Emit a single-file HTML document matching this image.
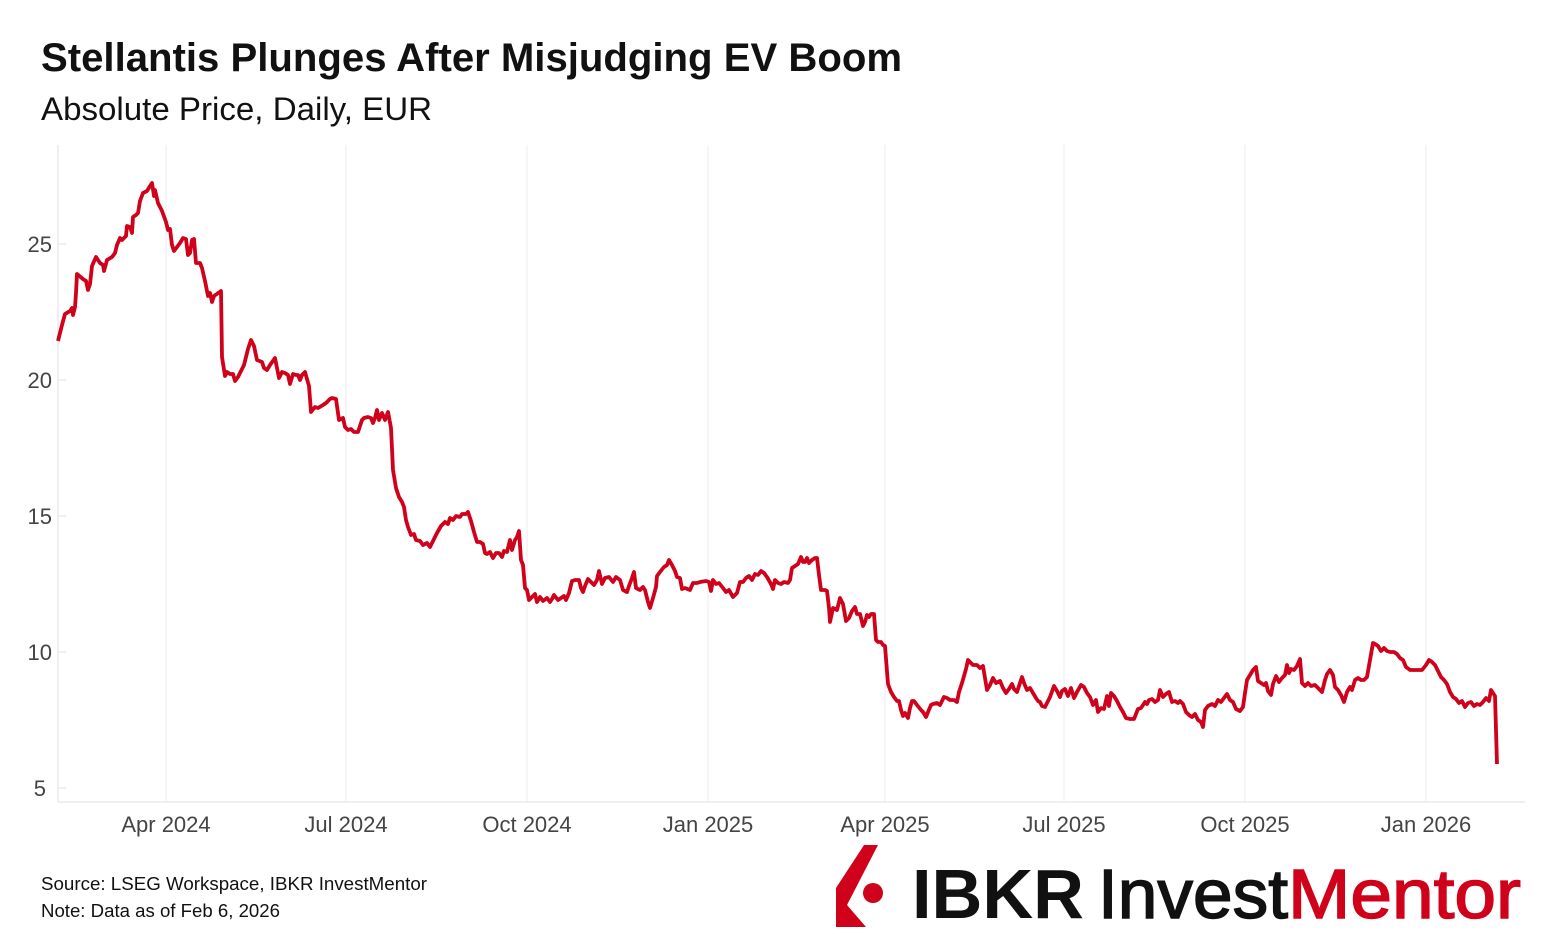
<!DOCTYPE html>
<html><head><meta charset="utf-8"><style>html,body{margin:0;padding:0;background:#fff}svg{display:block}</style></head>
<body>
<svg width="1563" height="952" viewBox="0 0 1563 952" xmlns="http://www.w3.org/2000/svg" font-family="Liberation Sans, DejaVu Sans, sans-serif">
<rect width="1563" height="952" fill="#fff"/>
<text x="41" y="71" font-size="40" font-weight="bold" fill="#111" textLength="861" lengthAdjust="spacingAndGlyphs">Stellantis Plunges After Misjudging EV Boom</text>
<text x="41" y="120" font-size="32" fill="#111" textLength="391" lengthAdjust="spacingAndGlyphs">Absolute Price, Daily, EUR</text>
<g stroke="#f2f3f5" stroke-width="1.5">
<line x1="166" y1="145" x2="166" y2="802"/><line x1="346" y1="145" x2="346" y2="802"/><line x1="527" y1="145" x2="527" y2="802"/><line x1="708" y1="145" x2="708" y2="802"/><line x1="885" y1="145" x2="885" y2="802"/><line x1="1064" y1="145" x2="1064" y2="802"/><line x1="1245" y1="145" x2="1245" y2="802"/><line x1="1426" y1="145" x2="1426" y2="802"/>
</g>
<g stroke="#e8eaee" stroke-width="1.5">
<line x1="58" y1="145" x2="58" y2="802"/><line x1="58" y1="802" x2="1525" y2="802"/>
<line x1="58" y1="244" x2="66" y2="244"/><line x1="58" y1="380" x2="66" y2="380"/><line x1="58" y1="516" x2="66" y2="516"/><line x1="58" y1="652" x2="66" y2="652"/><line x1="58" y1="788" x2="66" y2="788"/>
</g>
<g font-size="22" fill="#444" text-anchor="end">
<text x="52" y="252">25</text><text x="52" y="388">20</text><text x="52" y="524">15</text><text x="52" y="660">10</text><text x="46" y="796">5</text>
</g>
<g font-size="22" fill="#444" text-anchor="middle">
<text x="166" y="832">Apr 2024</text><text x="346" y="832">Jul 2024</text><text x="527" y="832">Oct 2024</text><text x="708" y="832">Jan 2025</text><text x="885" y="832">Apr 2025</text><text x="1064" y="832">Jul 2025</text><text x="1245" y="832">Oct 2025</text><text x="1426" y="832">Jan 2026</text>
</g>
<polyline fill="none" stroke="#d0021b" stroke-width="3.8" stroke-linejoin="round" points="58,341 62,325 65,314 70,311 72,308 73,315 75,307 76,293 77,274 83,279 86,281 88,290 90,284 92,266 96,257 100,263 103,265 104,271 107,260 112,257 115,253 117,245 120,238 122,240 126,236 127,226 130,227 132,233 133,217 136,215 138,213 140,201 143,193 147,191 150,186 152,183 154,196 155,190 158,203 162,211 166,222 168,230 170,229 172,245 174,251 177,247 180,243 183,238 186,239 188,255 190,253 192,240 194,239 196,263 200,263 202,268 205,281 208,296 210,293 212,302 214,296 221,291 222,357 225,376 227,372 230,374 233,374 235,381 238,377 240,373 244,365 248,349 251,340 254,346 257,360 262,362 264,368 267,370 270,365 275,358 277,368 279,378 282,372 285,373 288,375 290,384 293,374 296,375 298,375 300,380 302,375 305,372 309,386 311,412 315,407 318,408 323,405 326,403 330,399 332,398 336,399 339,420 343,418 345,427 348,430 351,429 354,432 358,432 362,420 364,418 368,417 371,418 373,423 375,418 377,410 379,420 382,413 385,420 388,412 391,428 393,470 396,488 399,497 402,502 404,507 406,520 408,527 411,535 414,534 416,540 420,541 423,545 427,543 430,547 434,539 437,533 441,526 445,522 448,524 450,518 453,520 456,516 460,517 462,514 466,514 468,512 471,521 474,532 477,542 480,542 483,544 485,553 487,554 490,552 493,558 496,553 499,553 502,557 504,551 507,552 510,540 512,550 515,540 517,537 519,531 521,560 523,565 525,588 527,590 529,600 532,597 535,594 537,602 540,597 543,601 547,598 550,602 552,599 554,595 558,600 561,598 564,596 566,600 569,593 572,581 575,580 579,580 581,588 583,592 585,586 588,579 591,582 594,585 597,580 599,571 602,584 605,578 609,577 613,582 616,577 620,580 623,590 627,592 629,586 632,578 634,572 636,588 640,590 643,587 645,590 648,602 650,608 653,598 656,587 657,576 660,572 664,567 667,565 669,560 672,565 675,571 677,577 680,578 682,589 685,588 690,590 693,583 697,583 700,582 706,581 709,582 711,591 713,580 716,584 719,583 723,588 726,592 729,590 733,597 737,593 740,582 743,582 746,578 749,576 752,580 755,574 758,575 761,571 764,573 767,577 771,584 773,589 775,580 778,583 781,584 784,582 788,583 790,580 792,568 795,566 798,564 801,557 803,562 805,562 807,558 809,563 812,560 815,558 817,558 819,575 821,590 825,590 827,591 829,608 830,622 833,608 837,610 840,598 843,604 846,621 849,618 852,611 855,607 857,614 860,614 863,626 865,622 867,615 869,617 871,614 874,614 876,640 878,642 881,642 883,645 885,646 888,684 891,692 894,697 897,701 899,701 901,710 903,716 905,713 908,718 910,708 912,701 914,701 917,705 921,710 923,712 926,717 928,712 931,705 933,704 937,703 940,705 942,701 944,697 947,698 950,700 954,700 957,702 959,692 962,683 966,669 968,660 970,662 973,665 977,665 980,668 983,666 985,678 987,690 990,685 993,678 996,683 1000,681 1003,688 1006,693 1009,689 1012,684 1014,689 1017,692 1019,686 1022,677 1024,683 1027,690 1030,688 1033,693 1036,698 1038,701 1040,702 1042,706 1045,707 1047,703 1050,697 1054,686 1057,691 1060,697 1062,691 1065,689 1068,696 1071,688 1074,698 1077,692 1081,685 1084,687 1087,693 1090,697 1093,705 1096,700 1098,712 1101,708 1104,709 1107,696 1109,706 1111,693 1114,696 1117,701 1120,707 1123,712 1126,718 1130,719 1134,719 1136,714 1138,709 1141,708 1145,702 1147,704 1149,700 1152,699 1155,702 1158,700 1160,690 1163,697 1166,694 1169,692 1172,702 1175,701 1178,703 1180,701 1183,704 1186,712 1189,715 1192,717 1195,714 1198,720 1201,722 1203,727 1205,710 1208,706 1212,704 1215,706 1218,700 1221,702 1224,698 1227,694 1230,700 1233,702 1236,709 1240,711 1243,707 1245,693 1247,680 1250,675 1253,670 1256,667 1258,681 1261,683 1264,685 1266,683 1268,691 1271,695 1273,684 1276,676 1279,682 1282,678 1285,675 1287,665 1289,673 1291,669 1294,670 1297,666 1300,659 1302,683 1305,686 1308,683 1311,686 1315,685 1318,688 1322,692 1325,680 1327,674 1330,670 1333,675 1335,687 1338,690 1341,695 1344,702 1347,692 1350,687 1352,690 1355,680 1358,678 1361,680 1364,680 1367,677 1370,660 1373,643 1375,644 1378,646 1381,651 1384,648 1387,651 1390,652 1394,652 1397,654 1400,658 1403,660 1406,667 1410,670 1414,670 1418,670 1422,670 1426,665 1429,660 1432,662 1435,665 1438,671 1441,677 1444,680 1447,684 1450,692 1453,697 1456,699 1459,703 1462,701 1465,707 1468,703 1471,702 1474,706 1477,704 1480,705 1483,702 1486,698 1489,701 1491,690 1493,693 1495,696 1497,764"/>
<g font-size="18" fill="#111">
<text x="41" y="890" textLength="386" lengthAdjust="spacingAndGlyphs">Source: LSEG Workspace, IBKR InvestMentor</text>
<text x="41" y="917" textLength="239" lengthAdjust="spacingAndGlyphs">Note: Data as of Feb 6, 2026</text>
</g>
<polygon points="864,845 878,845 847,905 866,927 836,927 836,888" fill="#d0021b"/>
<circle cx="873" cy="893" r="10" fill="#d0021b"/>
<text x="912" y="918" font-size="70" font-weight="bold" fill="#111" textLength="172" lengthAdjust="spacingAndGlyphs">IBKR</text>
<text x="1098" y="918" font-size="70" fill="#111" stroke="#111" stroke-width="1.5" textLength="190" lengthAdjust="spacingAndGlyphs">Invest</text>
<text x="1288" y="918" font-size="70" fill="#d0021b" stroke="#d0021b" stroke-width="1.5" textLength="233" lengthAdjust="spacingAndGlyphs">Mentor</text>
</svg>
</body></html>
